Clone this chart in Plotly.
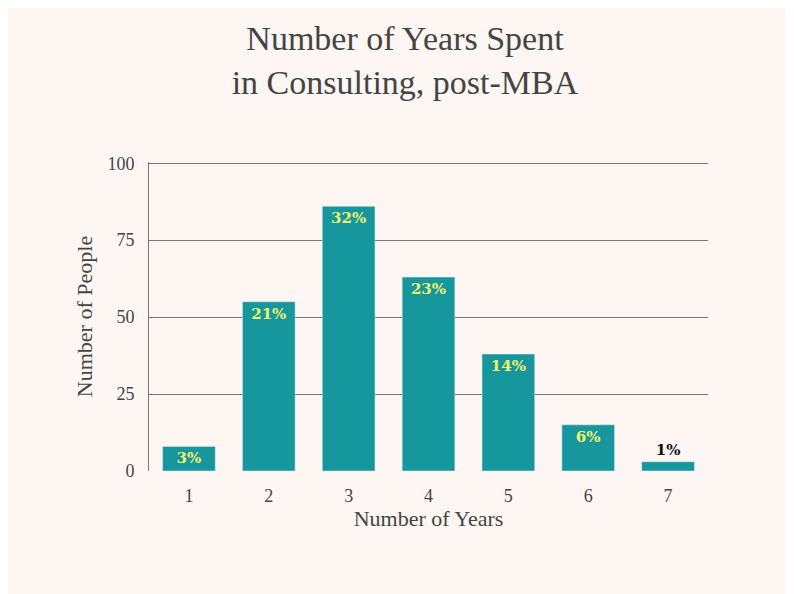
import plotly.graph_objects as go

years = ["1", "2", "3", "4", "5", "6", "7"]
people = [8, 55, 86, 63, 38, 15, 3]
pct_labels = ["3%", "21%", "32%", "23%", "14%", "6%", "1%"]
label_pos = ["inside"] * 6 + ["outside"]
label_col = ["#f3f36a"] * 6 + ["#111111"]

bg = "#fdf6f3"
fig = go.Figure(go.Bar(
    x=years, y=people, text=pct_labels, textposition=label_pos,
    insidetextanchor="end",
    textfont=dict(family="DejaVu Serif", size=15, color=label_col),
    marker_color="#16979e", width=0.66, cliponaxis=False,
))
fig.update_traces(texttemplate="<b>%{text}</b>")
fig.update_layout(
    width=794, height=594, paper_bgcolor=bg, plot_bgcolor=bg,
    margin=dict(l=141, r=94, t=154, b=131),
    font=dict(family="Liberation Serif", color="#444444", size=18),
    title=dict(text="Number of Years Spent<br>in Consulting, post-MBA",
               x=0.5, xanchor="center", y=0.93, yanchor="top",
               font=dict(size=34, color="#444444")),
    showlegend=False, bargap=0.34,
    uniformtext=dict(minsize=8, mode="show"),
)
fig.update_xaxes(showgrid=False, showline=False, ticks="", ticklabelstandoff=12,
                 title=dict(text="Number of Years", standoff=4, font=dict(size=22)))
fig.update_yaxes(range=[0, 100.4], tickvals=[0, 25, 50, 75, 100], gridcolor="#777777",
                 gridwidth=1, showline=True, linecolor="#777777", zeroline=False,
                 ticks="", ticklabelstandoff=10,
                 title=dict(text="Number of People", standoff=8, font=dict(size=22)))
fig.write_html("out.html")
